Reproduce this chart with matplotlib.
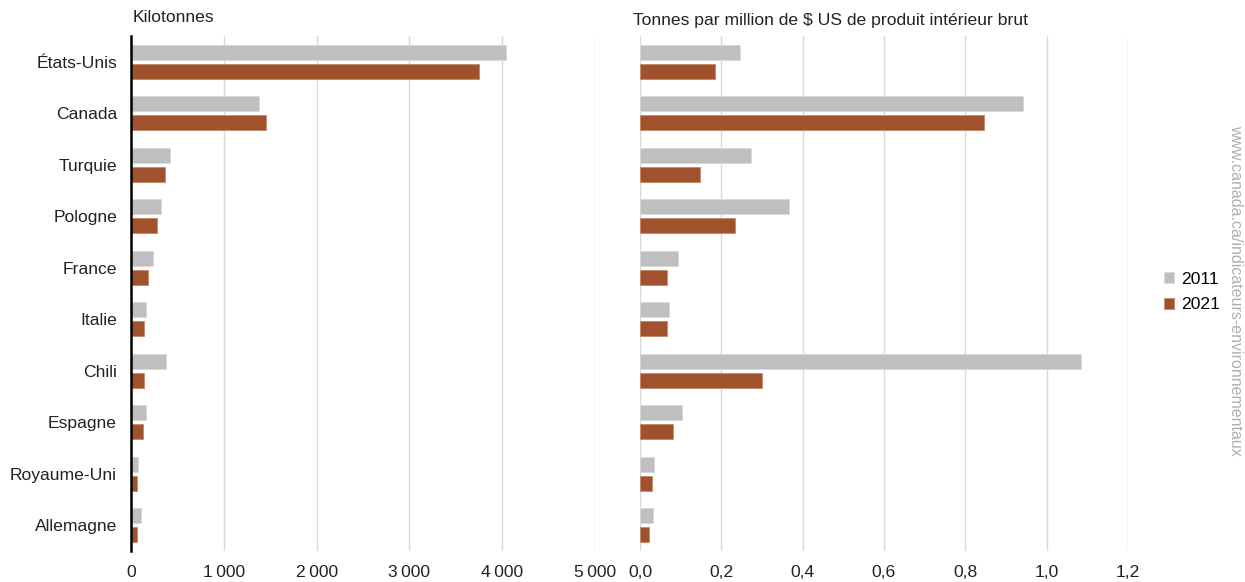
import matplotlib.pyplot as plt
import numpy as np
from matplotlib.ticker import FuncFormatter

plt.rcParams['font.family'] = ['Liberation Sans', 'DejaVu Sans']

pays = ['États-Unis', 'Canada', 'Turquie', 'Pologne', 'France',
        'Italie', 'Chili', 'Espagne', 'Royaume-Uni', 'Allemagne']

# émissions en kilotonnes
kt_2011 = [4040, 1380, 425, 325, 240, 165, 380, 165, 75, 110]
kt_2021 = [3750, 1455, 370, 285, 185, 140, 140, 130, 65, 65]

# intensité : tonnes par million de $ US de PIB
pib_2011 = [0.245, 0.941, 0.273, 0.367, 0.093, 0.071, 1.084, 0.103, 0.035, 0.032]
pib_2021 = [0.184, 0.846, 0.148, 0.234, 0.066, 0.066, 0.300, 0.081, 0.030, 0.022]

gris = '#bfbfbf'
brun = '#a0522d'
fs = 12.6

fig = plt.figure(figsize=(12.45, 5.82), dpi=100)
ax1 = fig.add_axes([131 / 1245, 31 / 582, 464 / 1245, 515 / 582])
ax2 = fig.add_axes([640 / 1245, 31 / 582, 488 / 1245, 515 / 582])

y = np.arange(len(pays))
h = 0.29
off = 0.185


def fr(v, pos):
    return f'{v:,.0f}'.replace(',', '\u2009')


def fr_dec(v, pos):
    return f'{v:.1f}'.replace('.', ',')


for ax, a, b, lim, step in [(ax1, kt_2011, kt_2021, 5000, 1000),
                             (ax2, pib_2011, pib_2021, 1.2, 0.2)]:
    ax.barh(y - off, a, height=h, color=gris, edgecolor='#d9d9d9', linewidth=0.6, label='2011', zorder=3)
    ax.barh(y + off, b, height=h, color=brun, edgecolor='#c58a6a', linewidth=0.6, label='2021', zorder=3)
    ax.set_xlim(0, lim)
    ax.set_ylim(len(pays) - 0.5, -0.5)
    ax.set_xticks(np.arange(0, lim + step / 2, step))
    ax.grid(axis='x', color='#d9d9d9', linewidth=1, zorder=0)
    for s in ['top', 'right', 'bottom', 'left']:
        ax.spines[s].set_visible(False)
    ax.tick_params(axis='both', length=0, labelsize=fs, colors='#222222', pad=10)

ax1.xaxis.set_major_formatter(FuncFormatter(fr))
ax2.xaxis.set_major_formatter(FuncFormatter(fr_dec))

ax1.spines['left'].set_visible(True)
ax1.spines['left'].set_color('black')
ax1.spines['left'].set_linewidth(1.8)
ax1.spines['left'].set_zorder(4)
ax1.set_yticks(y)
ax1.set_yticklabels(pays)
ax2.set_yticks([])

fig.text(133 / 1245, 1 - 18 / 582, 'Kilotonnes', fontsize=fs, va='center', ha='left', color='#222222')
fig.text(633 / 1245, 1 - 20 / 582, 'Tonnes par million de $ US de produit intérieur brut',
         fontsize=fs, va='center', ha='left', color='#222222')

handles, labels = ax1.get_legend_handles_labels()
fig.legend(handles, labels, loc='center left', bbox_to_anchor=(1148 / 1245, 1 - 292 / 582),
           frameon=False, fontsize=fs, handlelength=0.6, handleheight=0.6,
           handletextpad=0.4, labelspacing=0.6)

fig.text(1236 / 1245, 1 - 290 / 582, 'www.canada.ca/indicateurs-environnementaux',
         rotation=270, fontsize=11.5, color='#b0b0b0', ha='center', va='center')

fig.savefig('out.png', dpi=100)
